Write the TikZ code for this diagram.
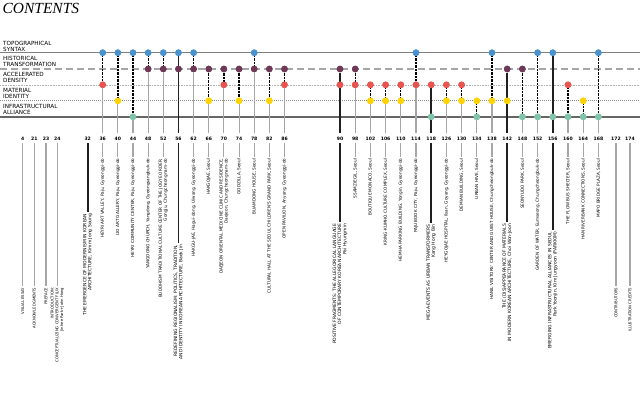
\documentclass[tikz,border=0pt]{standalone}
\usepackage{fontspec}
\setmainfont{DejaVu Sans}
\newfontfamily\titlefont{Liberation Serif}
\definecolor{cT}{RGB}{74,146,206}
\definecolor{cH}{RGB}{110,56,86}
\definecolor{cA}{RGB}{232,84,80}
\definecolor{cM}{RGB}{255,212,0}
\definecolor{cI}{RGB}{128,196,170}
\tikzset{
  dot/.style={circle, inner sep=0pt, minimum size=6.6bp, fill=c#1},
  link/.style={black, line width=1.3bp, dash pattern=on 0.7bp off 0.7bp},
  stem/.style={black!35, line width=1.1bp},
  essay/.style={black!88, line width=1.8bp},
  pnum/.style={font=\bfseries\fontsize{4.6}{5}\selectfont, inner sep=0pt},
  lab/.style={rotate=90, anchor=east, align=right, inner sep=0pt, font=\fontsize{4.2}{5}\selectfont},
  matterlab/.style={lab, font=\fontsize{3.8}{4.8}\selectfont},
  essaylab/.style={lab, font=\fontsize{4.5}{5.2}\selectfont},
  rowlab/.style={anchor=south west, align=left, inner sep=0pt, font=\fontsize{5.7}{6}\selectfont},
  rowT/.style={black!50, line width=1bp},
  rowH/.style={black!35, line width=2bp, dash pattern=on 7bp off 4bp},
  rowA/.style={black!30, line width=0.5bp, dash pattern=on 0.8bp off 0.8bp},
  rowM/.style={black!45, line width=0.8bp, dash pattern=on 1bp off 1bp},
  rowI/.style={black!60, line width=2bp},
}
\def\dotcols{36/T/A, 40/T/M, 44/T/I, 48/T/H, 52/T/H, 62/T/H, 66/H/M, 70/H/A, 74/H/M, 78/T/H, 82/H/M, 86/H/A, 98/H/A, 102/A/M, 106/A/M, 110/A/M, 114/T/A, 126/A/M, 130/A/M, 134/M/I, 138/T/M, 148/H/I, 152/T/I, 160/A/I, 164/M/I, 168/T/I}
\def\essaycols{56/T/H, 90/H/A, 118/A/I, 142/H/M, 156/T/I}
\begin{document}
\begin{tikzpicture}[x=1bp, y=-1bp]
\useasboundingbox (0,0) rectangle (640,392);
% columns
\foreach \p/\x in {4/22.7, 21/34.3, 23/46, 24/57.3, 32/87.7,
  36/102.7, 40/117.85, 44/133, 48/148.15, 52/163.3, 56/178.45, 62/193.6, 66/208.75, 70/223.9, 74/239.05, 78/254.2, 82/269.35, 86/284.5,
  90/340, 98/355.2, 102/370.4, 106/385.6, 110/400.8, 114/416, 118/431.2, 126/446.4, 130/461.6, 134/476.8, 138/492, 142/507.2, 148/522.4, 152/537.6, 156/552.8, 160/568, 164/583.2, 168/598.4,
  172/616, 174/630}
  \coordinate (col\p) at (\x,0);
% rows
\coordinate (rowT) at (0,52.7);  \coordinate (rowTe) at (640,52.7);
\coordinate (rowH) at (0,69);    \coordinate (rowHe) at (640,69);
\coordinate (rowA) at (0,84.8);  \coordinate (rowAe) at (640,84.8);
\coordinate (rowM) at (0,100.8); \coordinate (rowMe) at (640,100.8);
\coordinate (rowI) at (0,116.8); \coordinate (rowIe) at (640,116.8);
\coordinate (stemtop) at (0,133);
\coordinate (pnrow) at (0,139);

\node[anchor=north west, inner sep=0pt, font=\titlefont\itshape\fontsize{15.5}{15.5}\selectfont] (title) at (2.5,3.3) {CONTENTS};

\draw[rowT] (rowT) -- (rowTe);
\draw[rowH] (rowH) -- (rowHe);
\draw[rowA] (rowA) -- (rowAe);
\draw[rowM] (rowM) -- (rowMe);
\draw[rowI] (rowI) -- (rowIe);

\node[rowlab] (lT) at (3,51.4) {TOPOGRAPHICAL\\SYNTAX};
\node[rowlab] (lH) at (3,66.8) {HISTORICAL\\TRANSFORMATION};
\node[rowlab] (lA) at (3,82.4) {ACCELERATED\\DENSITY};
\node[rowlab] (lM) at (3,98.2) {MATERIAL\\IDENTITY};
\node[rowlab] (lI) at (3,114.4) {INFRASTRUCTURAL\\ALLIANCE};

% dots (placed first so connectors can refer to them)
\foreach \p/\a/\b in \dotcols {
  \node[dot=\a] (d\p\a) at (col\p |- row\a) {};
  \node[dot=\b] (d\p\b) at (col\p |- row\b) {};
}
\foreach \p/\a/\b in \essaycols {
  \node[dot=\a] (d\p\a) at (col\p |- row\a) {};
  \node[dot=\b] (d\p\b) at (col\p |- row\b) {};
}
% upper connectors
\foreach \p/\a/\b in \dotcols {
  \draw[stem] (d\p\b) -- (col\p |- stemtop);
  \draw[link] (d\p\a) -- (d\p\b);
}
\foreach \p/\a/\b in \essaycols {
  \draw[essay] (d\p\a) -- (col\p |- stemtop);
}
% dots again on top of the lines
\foreach \p/\a/\b in \dotcols {
  \node[dot=\a] at (d\p\a) {};
  \node[dot=\b] at (d\p\b) {};
}
\foreach \p/\a/\b in \essaycols {
  \node[dot=\a] at (d\p\a) {};
  \node[dot=\b] at (d\p\b) {};
}

% front and back matter
\foreach \p/\t in {
  4/{VISUAL ESSAY},
  21/{ACKNOWLEDGMENTS},
  23/{PREFACE},
  24/{INTRODUCTION:\\CONCEPTUALIZING CONVERGENT FLUX\\Jinhee Park+John Hong},
  172/{CONTRIBUTORS},
  174/{ILLUSTRATION CREDITS}} {
  \node[pnum] (pn\p) at (col\p |- pnrow) {\p};
  \coordinate (end\p) at (col\p |- 0,286);
  \draw[stem, shorten <=2bp] (pn\p) -- (end\p);
  \node[matterlab] (t\p) at ([yshift=-1.5bp]end\p) {\t};
}
% projects
\foreach \p/\t in {
  36/{HEYRI ART VALLEY, Paju, Gyeonggi-do},
  40/{LIO ART GALLERY, Paju, Gyeonggi-do},
  44/{HEYRI COMMUNITY CENTER, Paju, Gyeonggi-do},
  48/{YANGDONG CHURCH, Yangdong, Gyeongsangbuk-do},
  52/{BUDDHISM TRADITIONAL CULTURE CENTER OF THE JOGYE ORDER,\\Gongju, Chungcheongnam-do},
  62/{HAKGU-JAE, Hagui-dong, Uiwang, Gyeonggi-do},
  66/{HAKGOJAE, Seoul},
  70/{DAEJEON ORIENTAL MEDICINE CLINIC AND RESIDENCE,\\Daejeon, Chungcheongnam-do},
  74/{GODZILLA, Seoul},
  78/{BUAMDONG HOUSE, Seoul},
  82/{CULTURAL HALL AT THE SEOUL CHILDREN'S GRAND PARK, Seoul},
  86/{OPEN PAVILION, Anyang, Gyeonggi-do},
  98/{SSAMZIEGIL, Seoul},
  102/{BOUTIQUE MONACO, Seoul},
  106/{KRING-KUMHO CULTURE COMPLEX, Seoul},
  110/{HEMHA PARKING BUILDING, Yongin, Gyeonggi-do},
  114/{PAJU BOOK CITY, Paju, Gyeonggi-do},
  126/{HEYGOJAE HOSPITAL, Ilsan, Goyang, Gyeonggi-do},
  130/{DEMIAN BUILDING, Seoul},
  134/{URBAN HIVE, Seoul},
  138/{HANIL VISITORS' CENTER AND GUEST HOUSE, Chungcheongbuk-do},
  148/{SEONYUDO PARK, Seoul},
  152/{GARDEN OF WATER, Eumseong, Chungcheongbuk-do},
  160/{THE FLOW BUS SHELTER, Seoul},
  164/{HAN RIVERBANK CONNECTIONS, Seoul},
  168/{MAPO BRIDGE PLAZA, Seoul}} {
  \node[pnum] (pn\p) at (col\p |- pnrow) {\p};
  \coordinate (end\p) at (col\p |- 0,157);
  \draw[stem, shorten <=2bp] (pn\p) -- (end\p);
  \node[lab] (t\p) at ([yshift=-1.5bp]end\p) {\t};
}
% essays
\foreach \p/\yb/\t in {
  32/212/{THE EMERGENCE OF MODERNISM IN KOREAN\\ARCHITECTURE, Kimm Jong Soung},
  56/243/{REDEFINING REGIONALISM: POLITICS, TRADITION,\\AND IDENTITY IN KOREAN ARCHITECTURE, Baek Jin},
  90/222/{POSITIVE FRAGMENTS: THE ALLEGORICAL LANGUAGE\\OF CONTEMPORARY KOREAN ARCHITECTURE\\Pai Hyungmin},
  118/223/{MEGA-EVENTS AS URBAN TRANSFORMERS\\Kang Hong Bin},
  142/222/{THE (DIS)APPEARANCE OF MATERIALS\\IN MODERN KOREAN ARCHITECTURE, Choi Won-Joon},
  156/230/{EMERGING INFRASTRUCTURAL ALLIANCES IN SEOUL\\Park Yoonjin, Kim Jungyoon (PARKKIM)}} {
  \node[pnum] (pn\p) at (col\p |- pnrow) {\p};
  \coordinate (end\p) at (col\p |- 0,\yb);
  \draw[essay, shorten <=2bp] (pn\p) -- (end\p);
  \node[essaylab] (t\p) at ([yshift=-1.5bp]end\p) {\t};
}
\end{tikzpicture}
\end{document}
